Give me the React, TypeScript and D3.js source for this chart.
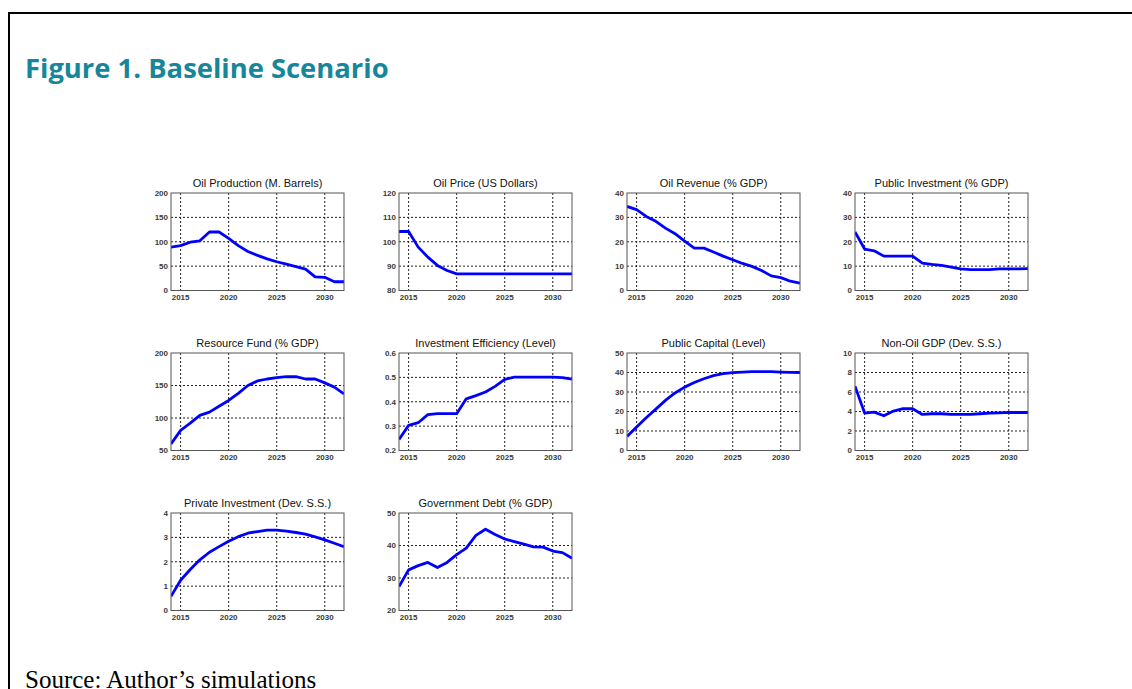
import { useEffect, useRef } from 'react';
import * as d3 from 'd3';

// Years on the x axis (annual simulation points)
const years = d3.range(2014, 2033);
const xTicks = [2015, 2020, 2025, 2030];

// Series
const oilProduction = [89, 92, 99, 102, 120, 120, 107, 92, 80, 72, 65, 59, 54, 49, 44, 28, 27, 18, 18];
const oilPrice = [104.2, 104.2, 97.8, 93.7, 90.3, 88.2, 86.8, 86.8, 86.8, 86.8, 86.8, 86.8, 86.8, 86.8, 86.8, 86.8, 86.8, 86.8, 86.8];
const oilRevenue = [34.5, 33.2, 30.4, 28.4, 25.6, 23.3, 20.3, 17.4, 17.4, 15.8, 14.1, 12.6, 11.1, 9.9, 8.2, 6.0, 5.3, 3.8, 3.0];
const publicInvestment = [24, 17.0, 16.3, 14.1, 14.1, 14.1, 14.1, 11.2, 10.7, 10.3, 9.6, 8.9, 8.6, 8.6, 8.6, 8.9, 8.9, 8.9, 9.0];
const resourceFund = [60, 81, 92, 104, 109, 118, 127, 138, 150, 157, 160, 162, 163.5, 163.5, 160, 160, 154, 147.5, 137];
const investmentEfficiency = [0.245, 0.303, 0.314, 0.347, 0.351, 0.351, 0.351, 0.412, 0.425, 0.44, 0.463, 0.492, 0.501, 0.501, 0.501, 0.501, 0.501, 0.499, 0.493];
const publicCapital = [7.2, 12, 16.8, 21.2, 25.7, 29.5, 32.5, 34.9, 36.8, 38.4, 39.4, 39.9, 40.2, 40.4, 40.4, 40.4, 40.2, 40.1, 40.0];
const nonOilGdp = [6.6, 3.84, 3.94, 3.56, 4.04, 4.3, 4.28, 3.7, 3.77, 3.77, 3.7, 3.7, 3.7, 3.77, 3.84, 3.86, 3.9, 3.9, 3.9];
const privateInvestment = [0.58, 1.24, 1.68, 2.08, 2.39, 2.62, 2.84, 3.03, 3.17, 3.24, 3.3, 3.3, 3.26, 3.2, 3.13, 3.02, 2.9, 2.76, 2.62];
const governmentDebt = [27.4, 32.5, 33.8, 34.8, 33.2, 34.8, 37.2, 39.2, 43.1, 45.0, 43.4, 42.0, 41.2, 40.4, 39.6, 39.5, 38.3, 37.8, 36.1];

const titles = [
  'Oil Production (M. Barrels)', 'Oil Price (US Dollars)', 'Oil Revenue (% GDP)', 'Public Investment (% GDP)',
  'Resource Fund (% GDP)', 'Investment Efficiency (Level)', 'Public Capital (Level)', 'Non-Oil GDP (Dev. S.S.)',
  'Private Investment (Dev. S.S.)', 'Government Debt (% GDP)',
];
const series = [
  oilProduction, oilPrice, oilRevenue, publicInvestment,
  resourceFund, investmentEfficiency, publicCapital, nonOilGdp,
  privateInvestment, governmentDebt,
];
const yTicks = [
  [0, 50, 100, 150, 200], [80, 90, 100, 110, 120], [0, 10, 20, 30, 40], [0, 10, 20, 30, 40],
  [50, 100, 150, 200], [0.2, 0.3, 0.4, 0.5, 0.6], [0, 10, 20, 30, 40, 50], [0, 2, 4, 6, 8, 10],
  [0, 1, 2, 3, 4], [20, 30, 40, 50],
];

export default function App() {
  const svgRef = useRef<SVGSVGElement>(null);
  const width = 1132;
  const height = 689;

  useEffect(() => {
    if (!svgRef.current) return;
    const svg = d3.select(svgRef.current);
    svg.selectAll('*').remove();

    svg.append('rect').attr('width', width).attr('height', height).attr('fill', '#fff');

    // outer frame
    svg.append('rect')
      .attr('x', 9).attr('y', 13).attr('width', 1300).attr('height', 900)
      .attr('fill', 'none').attr('stroke', '#000').attr('stroke-width', 2);

    svg.append('text')
      .attr('x', 25).attr('y', 78)
      .attr('font-family', '"Open Sans", sans-serif').attr('font-weight', 700)
      .attr('font-size', 27.4).attr('fill', '#17869b')
      .text('Figure 1. Baseline Scenario');

    svg.append('text')
      .attr('x', 25).attr('y', 688)
      .attr('font-family', '"Liberation Serif", serif')
      .attr('font-size', 25).attr('fill', '#000')
      .text('Source: Author\u2019s simulations');

    const pw = 173;
    const ph = 97.5;
    const col0 = 171;
    const colStep = 228;
    const row0 = 193;
    const rowStep = 160;

    series.forEach((values, i) => {
      const col = i % 4;
      const row = Math.floor(i / 4);
      const g = svg.append('g')
        .attr('transform', `translate(${col0 + col * colStep},${row0 + row * rowStep})`);

      const ticks = yTicks[i];
      const x = d3.scaleLinear().domain([2014, 2032]).range([0, pw]);
      const y = d3.scaleLinear().domain([ticks[0], ticks[ticks.length - 1]]).range([ph, 0]);

      g.append('rect').attr('width', pw).attr('height', ph).attr('fill', '#fff');

      // dotted grid
      g.selectAll('.vg').data(xTicks).join('line')
        .attr('x1', d => x(d)).attr('x2', d => x(d)).attr('y1', 0).attr('y2', ph)
        .attr('stroke', '#222').attr('stroke-width', 1).attr('stroke-dasharray', '2,2');
      g.selectAll('.hg').data(ticks.slice(1, -1)).join('line')
        .attr('x1', 0).attr('x2', pw).attr('y1', d => y(d)).attr('y2', d => y(d))
        .attr('stroke', '#222').attr('stroke-width', 1).attr('stroke-dasharray', '2,2');

      const clipId = `clip-${i}`;
      g.append('clipPath').attr('id', clipId)
        .append('rect').attr('width', pw).attr('height', ph);

      const line = d3.line<number>()
        .x((_, j) => x(years[j]))
        .y(d => y(d));

      g.append('path')
        .datum(values)
        .attr('clip-path', `url(#${clipId})`)
        .attr('fill', 'none')
        .attr('stroke', '#0000ff')
        .attr('stroke-width', 2.8)
        .attr('stroke-linejoin', 'round')
        .attr('d', line);

      g.append('rect').attr('width', pw).attr('height', ph)
        .attr('fill', 'none').attr('stroke', '#555').attr('stroke-width', 1);

      g.selectAll('.yl').data(ticks).join('text')
        .attr('x', -3).attr('y', d => y(d)).attr('dy', '0.35em')
        .attr('text-anchor', 'end')
        .attr('font-family', '"Liberation Sans", Arial, sans-serif')
        .attr('font-size', 8).attr('font-weight', 700).attr('fill', '#3a3a3a')
        .text(d => d3.format('~g')(d));

      g.selectAll('.xl').data(xTicks).join('text')
        .attr('x', d => x(d)).attr('y', ph + 9.5)
        .attr('text-anchor', 'middle')
        .attr('font-family', '"Liberation Sans", Arial, sans-serif')
        .attr('font-size', 8).attr('font-weight', 700).attr('fill', '#3a3a3a')
        .text(d => String(d));

      g.append('text')
        .attr('x', pw / 2).attr('y', -6)
        .attr('text-anchor', 'middle')
        .attr('font-family', '"Liberation Sans", Arial, sans-serif')
        .attr('font-size', 11).attr('fill', '#111')
        .text(titles[i]);
    });
  }, []);

  return (
    <svg
      ref={svgRef}
      width={width}
      height={height}
      style={{ position: 'absolute', left: 0, top: 0, display: 'block' }}
    />
  );
}
